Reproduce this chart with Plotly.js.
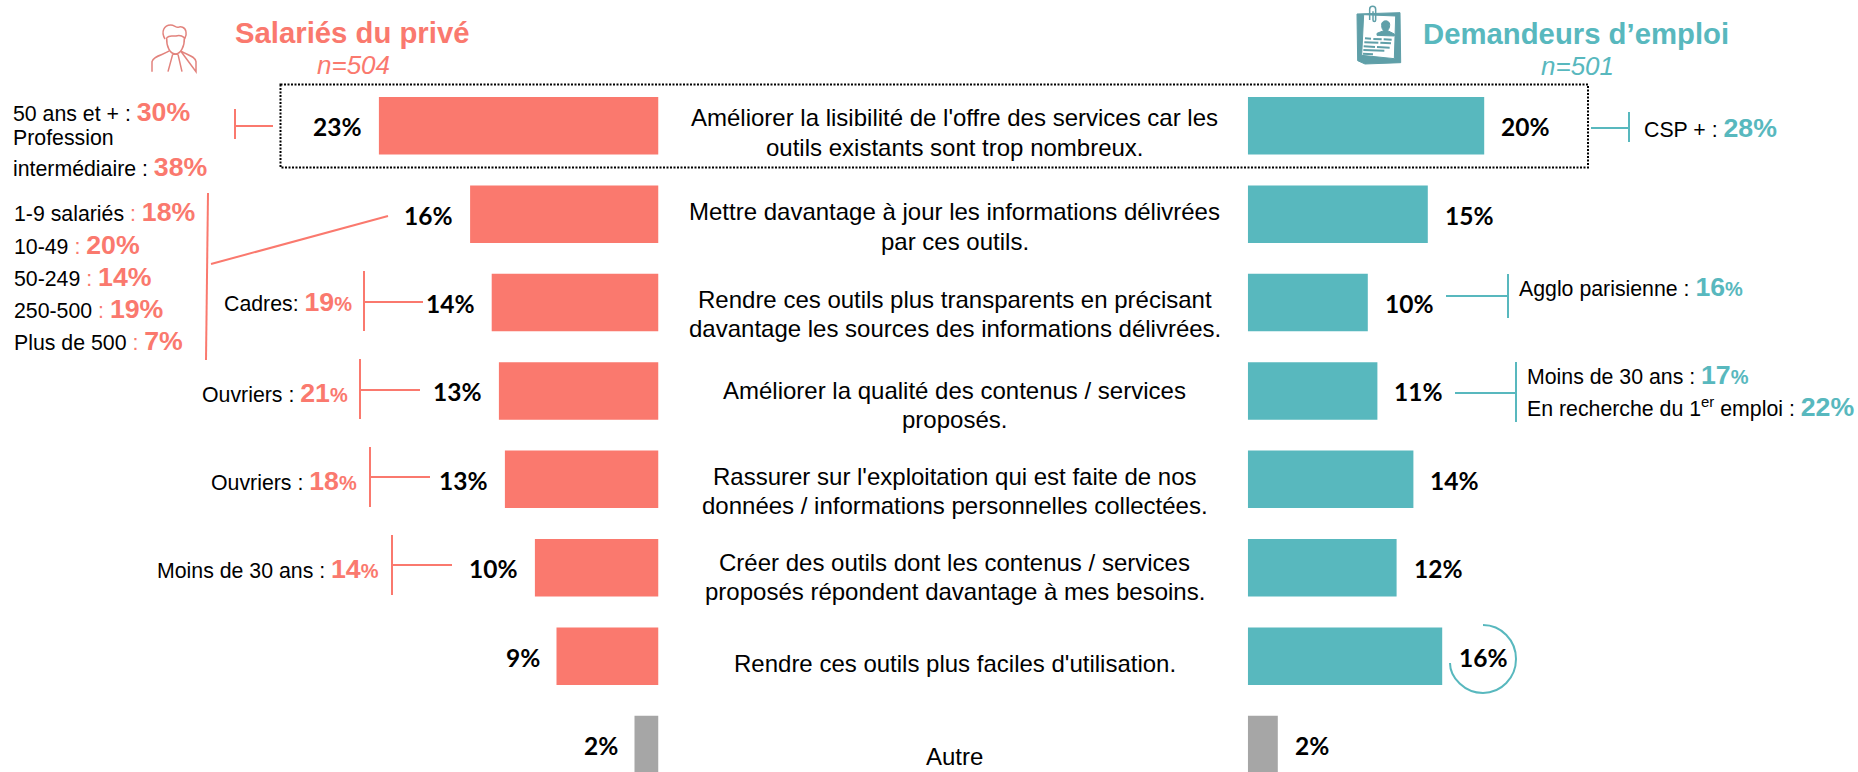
<!DOCTYPE html>
<html><head><meta charset="utf-8">
<script src="https://cdn.plot.ly/plotly-3.0.1.min.js"></script>
<style>html,body{margin:0;padding:0;background:#fff;overflow:hidden}#c{width:1858px;height:772px}</style>
</head><body><div id="c"></div>
<script>
var W=1858,H=772;
var categories=["Améliorer la lisibilité de l'offre des services car les<br>outils existants sont trop nombreux.",
"Mettre davantage à jour les informations délivrées<br>par ces outils.",
"Rendre ces outils plus transparents en précisant<br>davantage les sources des informations délivrées.",
"Améliorer la qualité des contenus / services<br>proposés.",
"Rassurer sur l'exploitation qui est faite de nos<br>données / informations personnelles collectées.",
"Créer des outils dont les contenus / services<br>proposés répondent davantage à mes besoins.",
"Rendre ces outils plus faciles d'utilisation.",
"Autre"];
var salariesValues=[23.3,15.7,13.9,13.3,12.8,10.3,8.5,2.0];
var demandeursValues=[19.7,15.0,10.0,10.8,13.8,12.4,16.2,2.5];
var salariesLabels=["23%","16%","14%","13%","13%","10%","9%","2%"];
var demandeursLabels=["20%","15%","10%","11%","14%","12%","16%","2%"];
var CORAL="#FA796E",TEAL="#58B8BE",GREY="#A6A6A6",FONT="Liberation Sans, Arial, sans-serif";
var labelLineY=[[118,147.5],[212,241.5],[299.5,328.5],[390,419.5],[476,505],[562,591],[663],[756]];

function px(x){return x/W;} function py(y){return 1-y/H;}
function ann(x,y,text,anchor,size,color,extra){
  var a={xref:'paper',yref:'paper',x:px(x),y:py(y),text:text,showarrow:false,xanchor:anchor||'left',yanchor:'middle',
    font:{family:FONT,size:size||21.3,color:color||'#000'},borderpad:0};
  for(var k in extra)a[k]=extra[k]; return a;
}
function pct(col,num,small){return '<span style="color:'+col+';font-size:26.7px"><b>'+num+(small?'</b></span><span style="color:'+col+';font-size:20px"><b>%</b></span>':'%</b></span>');}
function line(x0,y0,x1,y1,col,w){return {type:'line',xref:'paper',yref:'paper',x0:px(x0),y0:py(y0),x1:px(x1),y1:py(y1),line:{color:col,width:w||2}};}
function path(d,col,w,fill){ // d: list of [cmd, x,y,...] in pixels
  var s=d.map(function(c){var o=c[0];for(var i=1;i<c.length;i+=2){o+=(i>1?' ':'')+px(c[i]).toFixed(5)+' '+py(c[i+1]).toFixed(5);}return o;}).join(' ');
  return {type:'path',xref:'paper',yref:'paper',path:s,line:{color:col,width:w},fillcolor:fill||'rgba(0,0,0,0)'};
}
function scale(d,ox,oy,k){return d.map(function(c){var r=[c[0]];for(var i=1;i<c.length;i+=2){r.push(ox+c[i]*k,oy+c[i+1]*k);}return r;});}

var traces=[
 {type:'bar',orientation:'h',y:categories,x:salariesValues,xaxis:'x',yaxis:'y',width:0.65,hoverinfo:'skip',showlegend:false,
  marker:{color:categories.map(function(c,i){return i===7?GREY:CORAL;}),line:{width:0}}},
 {type:'bar',orientation:'h',y:categories,x:demandeursValues,xaxis:'x2',yaxis:'y',width:0.65,hoverinfo:'skip',showlegend:false,
  marker:{color:categories.map(function(c,i){return i===7?GREY:TEAL;}),line:{width:0}}}
];

var annotations=[];
// value labels, anchored on the bar ends
categories.forEach(function(c,i){
  annotations.push({xref:'x',yref:'y',x:salariesValues[i],y:c,text:'<b>'+salariesLabels[i]+'</b>',showarrow:false,xanchor:'right',yanchor:'middle',xshift:-16,yshift:-1,borderpad:0,font:{family:'Lato, sans-serif',size:24.5,color:'#000'}});
  annotations.push({xref:'x2',yref:'y',x:demandeursValues[i],y:c,text:'<b>'+demandeursLabels[i]+'</b>',showarrow:false,xanchor:'left',yanchor:'middle',xshift:16,yshift:-1,borderpad:0,font:{family:'Lato, sans-serif',size:24.5,color:'#000'}});
  c.split('<br>').forEach(function(t,j){annotations.push(ann(955,labelLineY[i][j],t,'center',24,'#000'));});
});
// headers
annotations.push(ann(234,32,'<b>Salariés du privé</b>','left',29.3,CORAL));
annotations.push(ann(353,65,'<i>n=504</i>','center',26,CORAL));
annotations.push(ann(1422,33,'<b>Demandeurs d’emploi</b>','left',29.3,TEAL));
annotations.push(ann(1577,66,'<i>n=501</i>','center',26,TEAL));
// left call-outs
annotations.push(ann(12,112,'50 ans et + : '+pct(CORAL,'30')));
annotations.push(ann(12,138,'Profession'));
annotations.push(ann(12,167,'intermédiaire : '+pct(CORAL,'38')));
function colon(c){return '<span style="color:'+c+'"> : </span>';}
annotations.push(ann(13,212,'1-9 salariés'+colon(CORAL)+pct(CORAL,'18')));
annotations.push(ann(13,245,'10-49'+colon(CORAL)+pct(CORAL,'20')));
annotations.push(ann(13,277,'50-249'+colon(CORAL)+pct(CORAL,'14')));
annotations.push(ann(13,309,'250-500'+colon(CORAL)+pct(CORAL,'19')));
annotations.push(ann(13,341,'Plus de 500'+colon(CORAL)+pct(CORAL,'7')));
annotations.push(ann(353,302,'Cadres: '+pct(CORAL,'19',true),'right'));
annotations.push(ann(349,393,'Ouvriers : '+pct(CORAL,'21',true),'right'));
annotations.push(ann(358,481,'Ouvriers : '+pct(CORAL,'18',true),'right'));
annotations.push(ann(380,569,'Moins de 30 ans : '+pct(CORAL,'14',true),'right'));
// right call-outs
annotations.push(ann(1643,128,'CSP + : '+pct(TEAL,'28')));
annotations.push(ann(1518,287,'Agglo parisienne : '+pct(TEAL,'16',true)));
annotations.push(ann(1526,375,'Moins de 30 ans : '+pct(TEAL,'17',true)));
annotations.push(ann(1526,407,'En recherche du 1<sup>er</sup> emploi : '+pct(TEAL,'22')));

var shapes=[
 {type:'rect',xref:'paper',yref:'paper',x0:px(280.5),x1:px(1588),y0:py(84.5),y1:py(167.5),line:{color:'#000',width:2,dash:'2px,1.5px'}},
 line(235,109,235,139,CORAL), line(235,126,273,126,CORAL),
 line(208,193,206,360,CORAL), line(211,264,388,216,CORAL),
 line(364,271,364,331,CORAL), line(364,302,423,302,CORAL),
 line(360,359,360,419,CORAL), line(360,390,420,390,CORAL),
 line(370,447,370,507,CORAL), line(370,477,430,477,CORAL),
 line(392,535,392,595,CORAL), line(392,565,452,565,CORAL),
 line(1591,128,1629,128,TEAL), line(1629,112,1629,142,TEAL),
 line(1446,296,1508,296,TEAL), line(1508,274,1508,318,TEAL),
 line(1455,393,1516,393,TEAL), line(1516,362,1516,422,TEAL)
];
// open circle round 16%
(function(){var cx=1483,cy=659,rx=33,ry=34,k=0.5523;
 shapes.push(path([['M',cx,cy-ry],['C',cx+k*rx,cy-ry,cx+rx,cy-k*ry,cx+rx,cy],['C',cx+rx,cy+k*ry,cx+k*rx,cy+ry,cx,cy+ry],['C',cx-k*rx,cy+ry,cx-rx,cy+k*ry,cx-rx,cy+4]],TEAL,2));
})();
// person icon (drawn on a 70-unit grid scaled 1/3)
var IC='#E2837D';
var person=[
 [['M',75,72],['C',62,50,72,30,92,30],['C',102,30,108,38,114,37],['C',122,34,135,35,138,50],['C',140,58,137,66,134,72]],
 [['M',80,68],['C',90,58,100,66,112,62],['C',120,60,128,64,133,68],['C',134,95,122,117,106,117],['C',90,117,79,95,80,68]],
 [['M',36,170],['L',36,140],['C',40,122,70,120,88,108],['M',122,108],['C',140,120,165,122,168,140],['L',168,170],['Z']],
 [['M',98,118],['L',84,170],['M',114,118],['L',126,170],['M',98,118],['L',114,118]]
];
person.forEach(function(p){shapes.push(path(scale(p,140,15,1/3),IC,1.5));});
// cv icon
var CV='#5F9FA8';
shapes.push(path(scale([['M',36,42],['L',165,38],['L',167,188],['L',60,192],['L',38,182],['Z']],1345,0,1/3),CV,1,CV));
shapes.push(path(scale([['M',56,44],['L',152,48],['L',148,176],['L',50,166],['Z']],1345,0,1/3),CV,1,'#FFFFFF'));
shapes.push(path(scale([['M',74,60],['L',74,28],['C',74,16,92,16,92,28],['L',92,60],['C',92,66,84,66,84,60],['L',84,34]],1345,0,1/3),CV,1.5,'rgba(0,0,0,0)'));
shapes.push(path(scale([['M',110,76],['C',108,58,136,58,134,76],['C',134,84,130,88,128,92],['L',148,102],['L',148,108],['L',96,106],['L',96,100],['L',116,92],['C',112,88,110,84,110,76],['Z']],1345,0,1/3),CV,1,CV));
[[60,115,78,116],[85,117,110,118],[116,118,140,119],[58,127,100,128],[106,128,138,130],[56,139,90,141],[96,141,134,143],[55,150,118,152],[54,161,84,163]].forEach(function(s){
  shapes.push(line(1345+s[0]/3,s[1]/3,1345+s[2]/3,s[3]/3,CV,2));
});

var layout={width:W,height:H,margin:{l:0,r:0,t:0,b:0},paper_bgcolor:'#fff',plot_bgcolor:'rgba(0,0,0,0)',showlegend:false,barmode:'overlay',
 xaxis:{domain:[0,658.5/W],range:[658.5/12,0],visible:false,fixedrange:true,anchor:'y'},
 xaxis2:{domain:[1247.8/W,1],range:[0,(W-1247.8)/12],visible:false,fixedrange:true,anchor:'y'},
 yaxis:{type:'category',categoryorder:'array',categoryarray:categories,domain:[0,1],range:[(H-125.75)/88.4,-125.75/88.4],visible:false,fixedrange:true},
 annotations:annotations,shapes:shapes};
Plotly.newPlot('c',traces,layout,{displayModeBar:false,staticPlot:true});
</script></body></html>
